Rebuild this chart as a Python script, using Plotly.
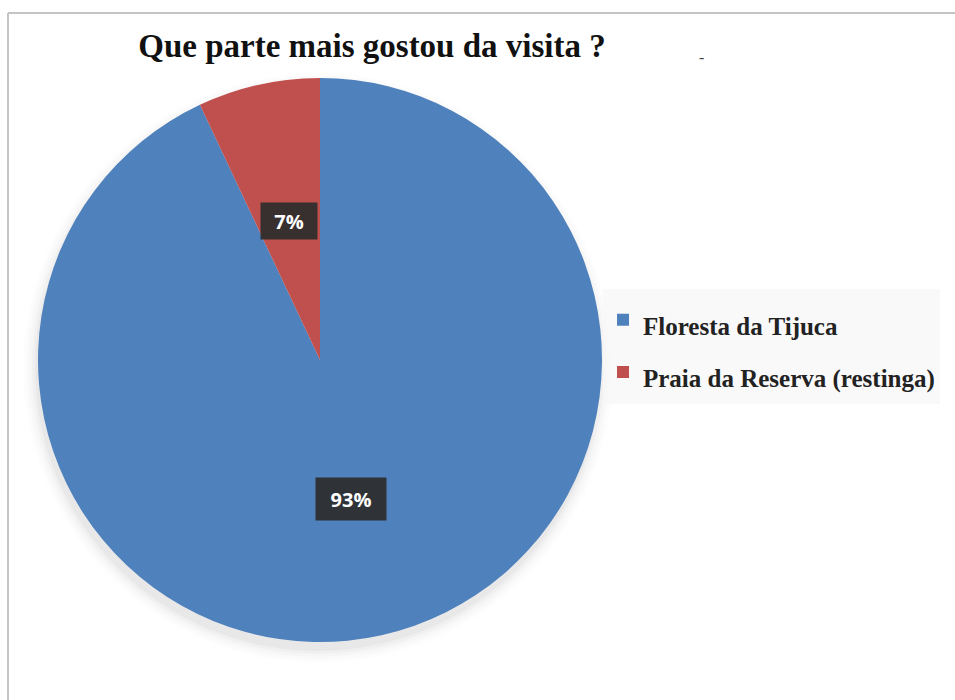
import math
import plotly.graph_objects as go

# ---- data ----
labels = ["Floresta da Tijuca", "Praia da Reserva (restinga)"]
values = [93, 7]
colors = ["#4F81BD", "#C0504D"]
title_text = "Que parte mais gostou da visita ?"

W, H = 955, 700
cx, cy, R = 320, 360, 282  # pie center / radius in px

dom_x = [(cx - R) / W, (cx + R) / W]
dom_y = [(H - (cy + R)) / H, (H - (cy - R)) / H]

legend_labels = [f'<span style="font-size:25px">{l}</span>' for l in labels]

fig = go.Figure()
fig.add_trace(go.Pie(
    labels=legend_labels,
    values=values,
    sort=False,
    direction="clockwise",
    rotation=0,
    marker=dict(colors=colors, line=dict(width=0)),
    textinfo="none",
    hoverinfo="label+percent",
    domain=dict(x=dom_x, y=dom_y),
))

# percent labels placed at slice mid-angles (computed from data)
total = sum(values)
cum = 0
annotations = []
box_sizes = [(68, 40), (54, 34)]
for v, (bw, bh) in zip(values, box_sizes):
    mid = (cum + v / 2) / total * 2 * math.pi
    cum += v
    r_lab = 0.505 * R
    px = cx + r_lab * math.sin(mid)
    py = cy - r_lab * math.cos(mid)
    annotations.append(dict(
        x=px / W, y=(H - py) / H, xref="paper", yref="paper",
        text=f"<b>{round(v / total * 100)}%</b>", showarrow=False,
        font=dict(family="Open Sans", size=20, color="white"),
        bgcolor="rgba(45,45,45,0.92)", width=bw, height=bh,
        xanchor="center", yanchor="middle",
    ))

# stray mark near title
annotations.append(dict(x=706 / W, y=(H - 47) / H, xref="paper", yref="paper",
                        text="-", showarrow=False,
                        font=dict(family="Liberation Serif", size=16, color="#444")))

shapes = []
# soft shadow beneath pie
for i, a in enumerate([0.03, 0.022, 0.016, 0.012, 0.008]):
    rr = R + 1 + i * 3
    shapes.append(dict(type="circle", xref="paper", yref="paper", layer="below",
                       x0=(cx - 2 - rr) / W, x1=(cx - 2 + rr) / W,
                       y0=(H - (cy + 8 + rr)) / H, y1=(H - (cy + 8 - rr)) / H,
                       fillcolor=f"rgba(0,0,0,{a})", line=dict(width=0)))
# frame lines (top and left)
shapes.append(dict(type="line", xref="paper", yref="paper", x0=8 / W, x1=1, y0=(H - 13) / H, y1=(H - 13) / H,
                   line=dict(color="#c4c4c4", width=2)))
shapes.append(dict(type="line", xref="paper", yref="paper", x0=8 / W, x1=8 / W, y0=0, y1=(H - 13) / H,
                   line=dict(color="#c4c4c4", width=2)))

fig.update_layout(
    width=W, height=H,
    margin=dict(l=0, r=0, t=0, b=0),
    paper_bgcolor="white",
    title=dict(text=title_text, x=372 / W, xanchor="center", xref="paper",
               y=1 - 45 / H, yanchor="middle", yref="container",
               font=dict(family="Liberation Serif", size=33, color="#111", weight="bold")),
    showlegend=True,
    legend=dict(x=603 / W, xanchor="left", y=(H - 346) / H, yanchor="middle",
                font=dict(family="Liberation Serif", size=38, color="#222", weight="bold"),
                bgcolor="rgba(246,246,246,0.7)"),
    annotations=annotations,
    shapes=shapes,
)

fig.write_html("out.html")
